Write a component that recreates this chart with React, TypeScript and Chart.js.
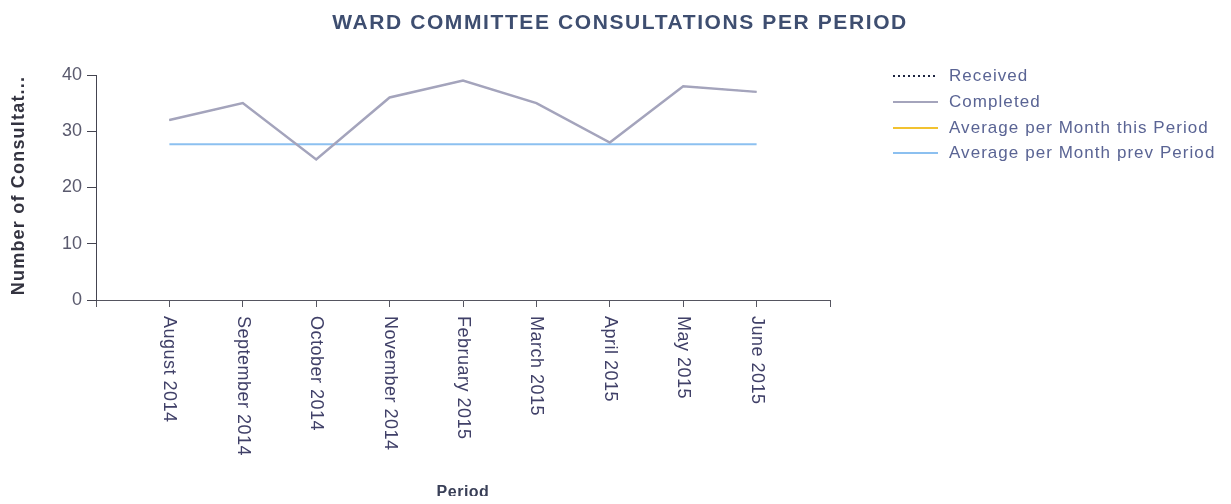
import { useEffect, useRef } from 'react';
import { Chart, registerables } from 'chart.js';

Chart.register(...registerables);

const chartTitle = 'WARD COMMITTEE CONSULTATIONS PER PERIOD';
const yAxisTitle = 'Number of Consultat...';
const xAxisTitle = 'Period';

const categories = [
  'August 2014',
  'September 2014',
  'October 2014',
  'November 2014',
  'February 2015',
  'March 2015',
  'April 2015',
  'May 2015',
  'June 2015',
];

const received = [32, 35, 25, 36, 39, 35, 28, 38, 37];
const completed = [32, 35, 25, 36, 39, 35, 28, 38, 37];
const avgThisPeriod: (number | null)[] = [null, null, null, null, null, null, null, null, null];
const avgPrevPeriod = [27.7, 27.7, 27.7, 27.7, 27.7, 27.7, 27.7, 27.7, 27.7];

const yTicks = [0, 10, 20, 30, 40];

const seriesNames = ['Received', 'Completed', 'Average per Month this Period', 'Average per Month prev Period'];
const seriesColors = ['#1c2440', '#a4a4bc', '#f2c230', '#8cc0f0'];

const FONT = 'Arial, "Liberation Sans", sans-serif';

const toPoints = (vals: (number | null)[]) =>
  vals.map((v, i) => ({ x: i + 1, y: v }));

const overlay = {
  id: 'overlay',
  afterDraw(chart: any) {
    const ctx = chart.ctx as any;
    const xs = chart.scales.x;
    const area = chart.chartArea;
    ctx.save();

    // title
    ctx.font = `bold 21px ${FONT}`;
    ctx.letterSpacing = '1.6px';
    ctx.fillStyle = '#3e4e70';
    ctx.textAlign = 'center';
    ctx.textBaseline = 'middle';
    ctx.fillText(chartTitle, 612, 15);

    // y axis title
    ctx.save();
    ctx.translate(11, (area.top + area.bottom) / 2 - 2);
    ctx.rotate(-Math.PI / 2);
    ctx.font = `bold 18px ${FONT}`;
    ctx.letterSpacing = '1.2px';
    ctx.fillStyle = '#333340';
    ctx.fillText(yAxisTitle, 0, 0);
    ctx.restore();

    // x axis title
    ctx.font = `bold 16px ${FONT}`;
    ctx.letterSpacing = '0.5px';
    ctx.fillStyle = '#3a4058';
    ctx.fillText(xAxisTitle, (area.left + area.right) / 2, 485);

    // x labels rotated clockwise
    ctx.font = `18px ${FONT}`;
    ctx.letterSpacing = '0.5px';
    ctx.fillStyle = '#404068';
    ctx.textAlign = 'left';
    ctx.textBaseline = 'middle';
    categories.forEach((c, i) => {
      const x = xs.getPixelForValue(i + 1);
      ctx.save();
      ctx.translate(x, area.bottom + 16);
      ctx.rotate(Math.PI / 2);
      ctx.fillText(c, 0, 0);
      ctx.restore();
    });

    // legend
    const rows = [68, 94, 120, 145];
    ctx.font = `17px ${FONT}`;
    ctx.letterSpacing = '1.05px';
    ctx.textBaseline = 'middle';
    seriesNames.forEach((name, i) => {
      const y = rows[i];
      ctx.beginPath();
      ctx.strokeStyle = seriesColors[i];
      ctx.lineWidth = 2;
      if (i === 0) ctx.setLineDash([2, 3]);
      else ctx.setLineDash([]);
      ctx.moveTo(885, y);
      ctx.lineTo(930, y);
      ctx.stroke();
      ctx.setLineDash([]);
      ctx.fillStyle = '#5a6494';
      ctx.fillText(name, 941, y);
    });

    ctx.letterSpacing = '0px';
    ctx.restore();
  },
};

export default function App() {
  const ref = useRef<HTMLCanvasElement | null>(null);

  useEffect(() => {
    if (!ref.current) return;
    const chart = new Chart(ref.current, {
      type: 'line',
      data: {
        datasets: [
          {
            label: seriesNames[0],
            data: toPoints(received),
            borderColor: seriesColors[0],
            borderWidth: 1,
            borderDash: [2, 3],
            pointRadius: 0,
            order: 4,
          },
          {
            label: seriesNames[1],
            data: toPoints(completed),
            borderColor: seriesColors[1],
            borderWidth: 2.5,
            pointRadius: 0,
            order: 1,
          },
          {
            label: seriesNames[2],
            data: toPoints(avgThisPeriod),
            borderColor: seriesColors[2],
            borderWidth: 2,
            pointRadius: 0,
            order: 3,
          },
          {
            label: seriesNames[3],
            data: toPoints(avgPrevPeriod),
            borderColor: seriesColors[3],
            borderWidth: 2,
            pointRadius: 0,
            order: 2,
          },
        ],
      },
      options: {
        animation: false,
        responsive: true,
        maintainAspectRatio: false,
        layout: { padding: { top: 67, right: 393, bottom: 0, left: 0 } },
        plugins: {
          legend: { display: false },
          title: { display: false },
          tooltip: { enabled: false },
        },
        scales: {
          x: {
            type: 'linear',
            min: 0,
            max: 10,
            ticks: { stepSize: 1, display: false },
            grid: { drawOnChartArea: false, drawTicks: true, tickLength: 7, color: '#555560' },
            border: { color: '#555560', width: 1 },
            afterFit: (s: any) => {
              s.height = 204;
            },
          },
          y: {
            min: 0,
            max: 40,
            afterBuildTicks: (s: any) => {
              s.ticks = yTicks.map((v) => ({ value: v }));
            },
            ticks: {
              font: { family: FONT, size: 18 },
              color: '#5a5a6e',
              padding: 5,
            },
            grid: { drawOnChartArea: false, drawTicks: true, tickLength: 9, color: '#444450' },
            border: { color: '#444450', width: 1 },
            afterFit: (s: any) => {
              s.width = 88;
            },
          },
        },
      },
      plugins: [overlay],
    });
    return () => chart.destroy();
  }, []);

  return (
    <div style={{ position: 'relative', width: '100%', height: 496, marginBottom: -8 }}>
      <canvas ref={ref} />
    </div>
  );
}
